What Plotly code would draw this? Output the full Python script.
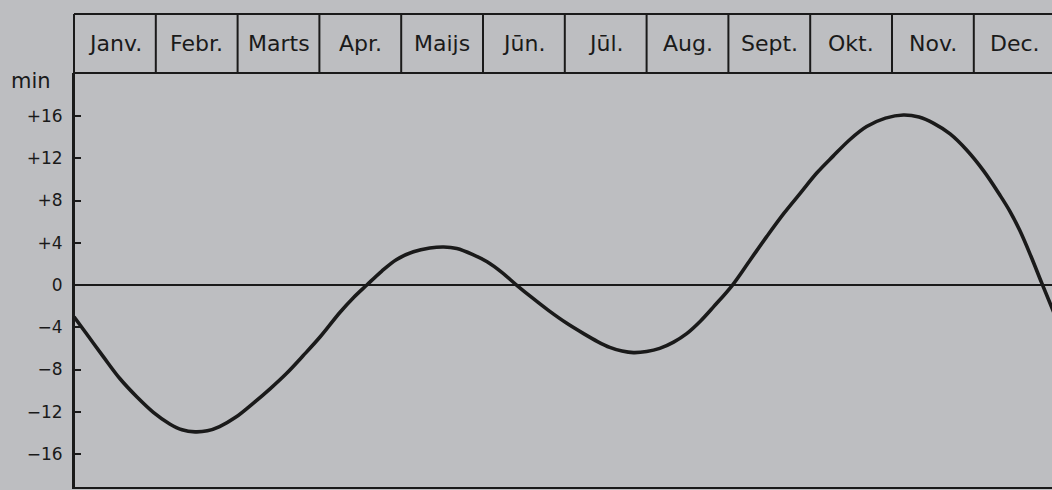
import plotly.graph_objects as go

# ---- data ----
months = ["Janv.", "Febr.", "Marts", "Apr.", "Maijs", "Jūn.", "Jūl.", "Aug.", "Sept.", "Okt.", "Nov.", "Dec."]
# position along the year in month units (0 = 1 Jan, 12 = 31 Dec)
month_pos = [0.00, 0.18, 0.36, 0.56, 0.77, 0.97, 1.17, 1.32, 1.48, 1.63, 1.78, 1.98,
             2.19, 2.40, 2.60, 2.80, 3.01, 3.25, 3.41, 3.58, 3.76, 3.94, 4.15, 4.35,
             4.52, 4.68, 4.87, 5.05, 5.23, 5.41, 5.60, 5.80, 6.02, 6.23, 6.40, 6.55,
             6.70, 6.84, 7.00, 7.16, 7.33, 7.49, 7.66, 7.82, 8.05, 8.26, 8.47, 8.68,
             8.88, 9.08, 9.28, 9.49, 9.69, 9.92, 10.14, 10.33, 10.51, 10.71, 10.91, 11.12,
             11.32, 11.44, 11.56, 11.70, 11.83, 12.00]
minutes = [-3.0, -4.9, -6.8, -8.85, -10.6, -12.05, -13.15, -13.7, -13.9, -13.8, -13.4, -12.5,
           -11.2, -9.8, -8.35, -6.7, -4.9, -2.6, -1.25, 0.0, 1.3, 2.4, 3.15, 3.5,
           3.6, 3.45, 2.9, 2.2, 1.2, 0.0, -1.2, -2.4, -3.6, -4.6, -5.35, -5.9,
           -6.25, -6.4, -6.3, -6.0, -5.4, -4.6, -3.4, -2.05, 0.0, 2.3, 4.6, 6.8,
           8.7, 10.6, 12.2, 13.8, 15.0, 15.8, 16.1, 15.9, 15.3, 14.3, 12.8, 10.8,
           8.5, 7.0, 5.2, 2.7, 0.2, -3.0]
tick_vals = [16, 12, 8, 4, 0, -4, -8, -12, -16]
tick_text = ["+16", "+12", "+8", "+4", "0", "\u22124", "\u22128", "\u221212", "\u221216"]

BG = "#bdbec1"
INK = "#1a1a1a"
FONT = "DejaVu Sans"

W, H = 1052, 490
ML, MR, MT, MB = 74, 0, 73, 3
plot_h = H - MT - MB
header_top = 1 + (MT - 14) / plot_h
MONTH_PX = 81.8

fig = go.Figure()
fig.add_trace(go.Scatter(
    x=month_pos, y=minutes, mode="lines",
    line=dict(color=INK, width=3.6, shape="spline", smoothing=1.0),
    hoverinfo="skip", showlegend=False,
))

shapes = []
# zero line
shapes.append(dict(type="line", xref="paper", yref="y", x0=0, x1=1, y0=0, y1=0,
                   line=dict(color=INK, width=2.2), layer="below"))
# header box top line and bottom line
shapes.append(dict(type="line", xref="x", yref="paper", x0=0, x1=12.5,
                   y0=header_top, y1=header_top, line=dict(color=INK, width=2)))
shapes.append(dict(type="line", xref="x", yref="paper", x0=0, x1=12.5,
                   y0=1, y1=1, line=dict(color=INK, width=2)))
# month dividers
for i in range(len(months) + 1):
    shapes.append(dict(type="line", xref="x", yref="paper", x0=i, x1=i,
                       y0=1, y1=header_top, line=dict(color=INK, width=2)))
# left axis extension through header
shapes.append(dict(type="line", xref="paper", yref="paper", x0=0, x1=0,
                   y0=0, y1=header_top, line=dict(color=INK, width=2)))

annotations = []
for i, m in enumerate(months):
    annotations.append(dict(x=i + 0.5, y=(1 + header_top) / 2, xref="x", yref="paper",
                            text=m, showarrow=False, xanchor="center", yanchor="middle",
                            font=dict(family=FONT, size=22, color=INK)))
annotations.append(dict(x=(31 - ML) / (W - ML - MR), y=1 - (81 - MT) / plot_h,
                        xref="paper", yref="paper", text="min",
                        showarrow=False, xanchor="center", yanchor="middle",
                        font=dict(family=FONT, size=21, color=INK)))

fig.update_layout(
    width=W, height=H,
    margin=dict(l=ML, r=MR, t=MT, b=MB, pad=0),
    paper_bgcolor=BG, plot_bgcolor=BG,
    shapes=shapes, annotations=annotations,
    xaxis=dict(range=[0, (W - ML) / MONTH_PX], showgrid=False, zeroline=False,
               showticklabels=False, ticks="", showline=True, linecolor=INK,
               linewidth=2, fixedrange=True),
    yaxis=dict(range=[-19.12, 20.07], tickvals=tick_vals, ticktext=tick_text,
               showgrid=False, zeroline=False,
               showline=True, linecolor=INK, linewidth=2,
               ticks="inside", ticklen=7, tickwidth=2, tickcolor=INK,
               ticklabelstandoff=6,
               tickfont=dict(family=FONT, size=17, color=INK), fixedrange=True),
)

fig.write_html("out.html", config={"displayModeBar": False},
               post_script="document.body.style.margin='0';document.body.style.overflow='hidden';")
